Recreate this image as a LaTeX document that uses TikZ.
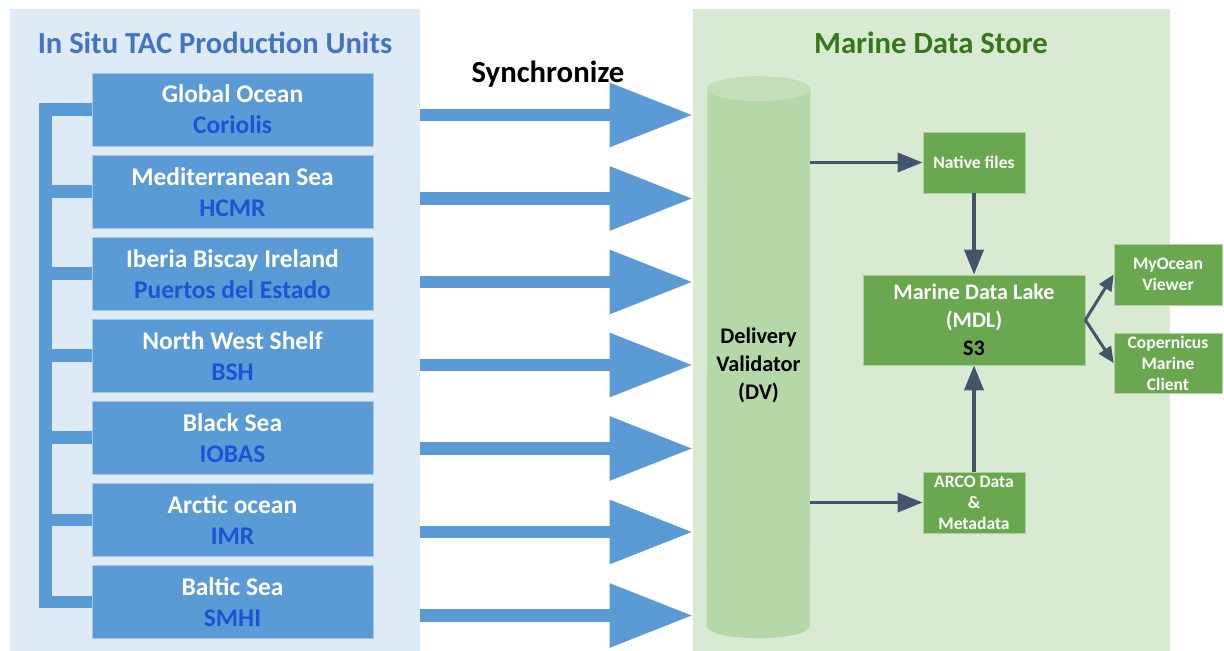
\documentclass[tikz,border=0pt]{standalone}
\usepackage{fontspec}
\setmainfont{Carlito}
\usetikzlibrary{arrows.meta}
\definecolor{lbg}{HTML}{DEEAF6}
\definecolor{rbg}{HTML}{D9EAD3}
\definecolor{boxblue}{HTML}{5B9BD5}
\definecolor{subblue}{HTML}{1F52D4}
\definecolor{titleblue}{HTML}{4472C4}
\definecolor{titlegreen}{HTML}{38761D}
\definecolor{cylbody}{HTML}{B6D7A8}
\definecolor{cyltop}{HTML}{C4DEB9}
\definecolor{boxgreen}{HTML}{6AA84F}
\definecolor{flowgray}{HTML}{44546A}
\tikzset{
  panel/.style={inner sep=0pt,minimum height=12.84cm},
  unit/.style={fill=boxblue,draw=boxblue!55!white,text=white,align=center,
    minimum width=5.62cm,minimum height=1.46cm,font=\fontsize{14.5}{17.6}\selectfont\bfseries},
  comb/.style={boxblue,line width=0.26cm},
  sync/.style={boxblue,line width=0.25cm,-{Triangle[length=1.66cm,width=1.22cm]}},
  store/.style={fill=boxgreen,draw=boxgreen!55!white,text=white,align=center,inner sep=0pt,
    font=\fontsize{10}{11.9}\selectfont\bfseries},
  flow/.style={flowgray,line width=0.075cm,-{Triangle[length=0.5cm,width=0.38cm]}},
  fork/.style={flowgray,line width=0.06cm,-{Triangle[length=0.32cm,width=0.28cm]}}
}
\begin{document}
\begin{tikzpicture}[x=0.02cm,y=-0.02cm]
\useasboundingbox (0,0) rectangle (1224,651);
\node[panel,fill=lbg,minimum width=8.2cm] (lpanel) at (215,330) {};
\node[panel,fill=rbg,minimum width=9.54cm] (rpanel) at (931.5,330) {};
\node[text=titleblue,font=\fontsize{17.4}{20}\selectfont\bfseries] (ltitle) at (215,43) {In Situ TAC Production Units};
\node[text=titlegreen,font=\fontsize{17.5}{20}\selectfont\bfseries] (rtitle) at (931,43) {Marine Data Store};
\node[font=\fontsize{17.5}{20}\selectfont\bfseries] (synclbl) at (548,74) {Synchronize};
% production units, edit here for the seas
\coordinate (spine) at (45.5,0);
\foreach \n/\y/\sea/\inst in {go/109.5/Global Ocean/Coriolis,ms/192/Mediterranean Sea/HCMR,
  ibi/274/Iberia Biscay Ireland/Puertos del Estado,nws/356/North West Shelf/BSH,
  bls/438/Black Sea/IOBAS,arc/520/Arctic ocean/IMR,bal/602/Baltic Sea/SMHI}
{\draw[comb] (232.5,\y) -- (spine |- 0,\y);
\node[unit] (\n) at (232.5,\y) {\sea\\\textcolor{subblue}{\inst}};}
\draw[comb,line cap=rect] (go.west -| spine) -- (bal.west -| spine);
\foreach \y in {115,198.5,282,365,448.5,532,615.5}
\draw[sync] (lpanel.east |- 0,\y) -- (rpanel.west |- 0,\y);
% delivery validator
\node[inner sep=0pt,minimum width=2.06cm,minimum height=10.74cm] (dv) at (758.5,357.5) {};
\fill[cylbody] (dv.south west) arc[start angle=180,end angle=360,x radius=1.03cm,y radius=0.24cm]
  -- (dv.north east) arc[start angle=0,end angle=180,x radius=1.03cm,y radius=0.24cm] -- cycle;
\fill[cyltop] (dv.north) ellipse[x radius=1.03cm,y radius=0.25cm];
\node[align=center,font=\fontsize{12.7}{15.9}\selectfont\bfseries] (dvlbl) at (758.5,365) {Delivery\\Validator\\(DV)};
% marine data store
\node[store,minimum width=2.04cm,minimum height=1.22cm] (nf) at (974,162.5) {Native files};
\node[store,minimum width=4.44cm,minimum height=1.8cm,font=\fontsize{12.6}{15.9}\selectfont\bfseries] (mdl) at (974,320) {Marine Data Lake\\(MDL)\\\textcolor{black}{S3}};
\node[store,minimum width=2.04cm,minimum height=1.22cm] (arco) at (974,502.5) {ARCO Data\\\&\\Metadata};
\node[store,minimum width=2.16cm,minimum height=1.22cm] (myo) at (1168,274.5) {MyOcean\\Viewer};
\node[store,minimum width=2.16cm,minimum height=1.2cm] (cmc) at (1168,363) {Copernicus\\Marine\\Client};
\draw[flow] (nf.west -| dv.east) -- (nf.west);
\draw[flow] (arco.west -| dv.east) -- (arco.west);
\draw[flow] (nf) -- (mdl);
\draw[flow] (arco) -- (mdl);
\draw[fork] (mdl.east) -- (myo.west);
\draw[fork] (mdl.east) -- (cmc.west);
\end{tikzpicture}
\end{document}
